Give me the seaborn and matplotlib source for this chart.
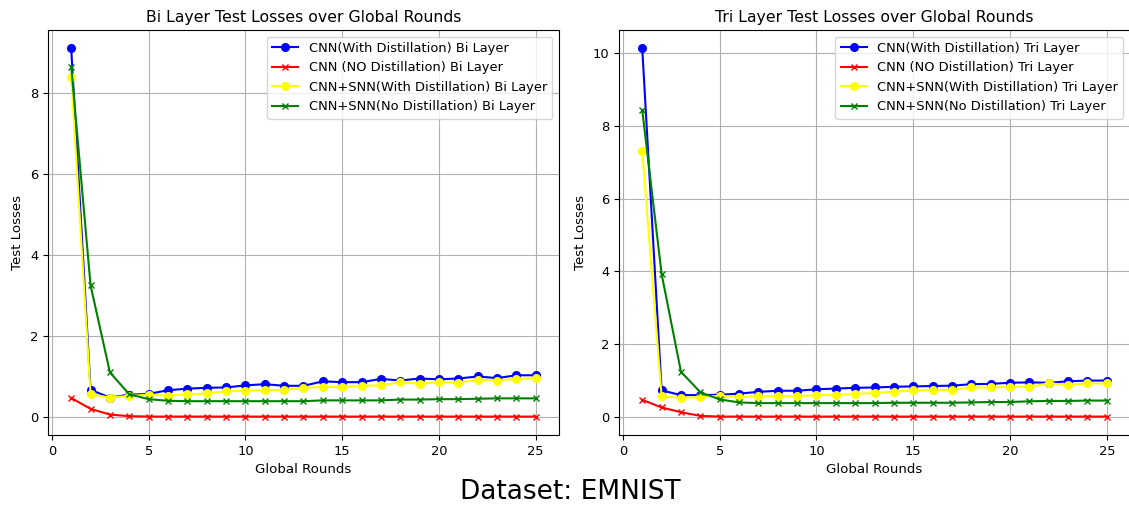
import matplotlib
matplotlib.use("Agg")
import matplotlib.pyplot as plt
import seaborn as sns
import pandas as pd

rounds = list(range(1, 26))

# Bi layer test losses
bi_cnn_distill = [9.10, 0.67, 0.48, 0.55, 0.57, 0.66, 0.70, 0.72, 0.73, 0.78, 0.81, 0.77, 0.77,
                  0.88, 0.86, 0.86, 0.94, 0.90, 0.95, 0.93, 0.95, 1.00, 0.96, 1.03, 1.03]
bi_cnn_nodistill = [0.47, 0.20, 0.06, 0.02, 0.01, 0.01, 0.01, 0.01, 0.01, 0.01, 0.01, 0.01, 0.01,
                    0.01, 0.01, 0.01, 0.01, 0.01, 0.01, 0.01, 0.01, 0.01, 0.01, 0.01, 0.01]
bi_snn_distill = [8.40, 0.56, 0.48, 0.52, 0.55, 0.53, 0.56, 0.58, 0.63, 0.65, 0.66, 0.67, 0.72,
                  0.74, 0.74, 0.77, 0.78, 0.86, 0.82, 0.86, 0.85, 0.92, 0.90, 0.94, 0.96]
bi_snn_nodistill = [8.65, 3.25, 1.10, 0.56, 0.44, 0.40, 0.39, 0.39, 0.39, 0.39, 0.39, 0.39, 0.39,
                    0.41, 0.41, 0.41, 0.41, 0.43, 0.43, 0.44, 0.44, 0.45, 0.46, 0.46, 0.46]

# Tri layer test losses
tri_cnn_distill = [10.13, 0.73, 0.60, 0.60, 0.61, 0.64, 0.69, 0.72, 0.72, 0.76, 0.78, 0.80, 0.81,
                   0.83, 0.84, 0.85, 0.86, 0.90, 0.91, 0.94, 0.95, 0.94, 0.98, 1.00, 1.00]
tri_cnn_nodistill = [0.47, 0.26, 0.13, 0.03, 0.01, 0.01, 0.01, 0.01, 0.01, 0.01, 0.01, 0.01, 0.01,
                     0.01, 0.01, 0.01, 0.01, 0.01, 0.01, 0.01, 0.01, 0.01, 0.01, 0.01, 0.01]
tri_snn_distill = [7.31, 0.57, 0.52, 0.55, 0.58, 0.55, 0.57, 0.57, 0.57, 0.60, 0.61, 0.63, 0.66,
                   0.69, 0.73, 0.73, 0.75, 0.81, 0.81, 0.83, 0.83, 0.92, 0.89, 0.92, 0.92]
tri_snn_nodistill = [8.43, 3.93, 1.24, 0.68, 0.48, 0.40, 0.38, 0.38, 0.38, 0.38, 0.38, 0.38, 0.38,
                     0.39, 0.39, 0.39, 0.39, 0.40, 0.41, 0.41, 0.43, 0.44, 0.44, 0.45, 0.45]

series_names = ["CNN(With Distillation)", "CNN (NO Distillation)",
                "CNN+SNN(With Distillation)", "CNN+SNN(No Distillation)"]
series_colors = ["blue", "red", "yellow", "green"]
series_markers = ["o", "x", "o", "x"]
series_sizes = [5.5, 5, 5.5, 5]

plt.rcParams["font.family"] = ["DejaVu Sans"]

fig = plt.figure(figsize=(11.29, 5.09), dpi=100)
ax_bi = fig.add_axes([0.0425, 0.1454, 0.4526, 0.7957])
ax_tri = fig.add_axes([0.5483, 0.1454, 0.4526, 0.7957])

panels = [
    (ax_bi, "Bi", [bi_cnn_distill, bi_cnn_nodistill, bi_snn_distill, bi_snn_nodistill]),
    (ax_tri, "Tri", [tri_cnn_distill, tri_cnn_nodistill, tri_snn_distill, tri_snn_nodistill]),
]

for ax, layer, values in panels:
    for name, vals, color, marker, ms in zip(series_names, values, series_colors,
                                             series_markers, series_sizes):
        df = pd.DataFrame({"round": rounds, "loss": vals})
        sns.lineplot(data=df, x="round", y="loss", ax=ax, color=color, marker=marker,
                     markersize=ms, markeredgecolor=color, markeredgewidth=1.0,
                     linewidth=1.5, label=f"{name} {layer} Layer")
    ax.set_title(f"{layer} Layer Test Losses over Global Rounds", fontsize=11.3)
    ax.set_xlabel("Global Rounds", fontsize=9.6)
    ax.set_ylabel("Test Losses", fontsize=9.6)
    ax.tick_params(labelsize=9.4)
    ax.grid(True, color="#b0b0b0", linewidth=0.8)
    ax.set_axisbelow(True)
    ax.set_xticks([0, 5, 10, 15, 20, 25])
    ax.legend(loc="upper right", fontsize=9.4)

fig.text(0.505, 0.033, "Dataset: EMNIST", ha="center", va="center", fontsize=19)

fig.savefig("out.png", dpi=100)
